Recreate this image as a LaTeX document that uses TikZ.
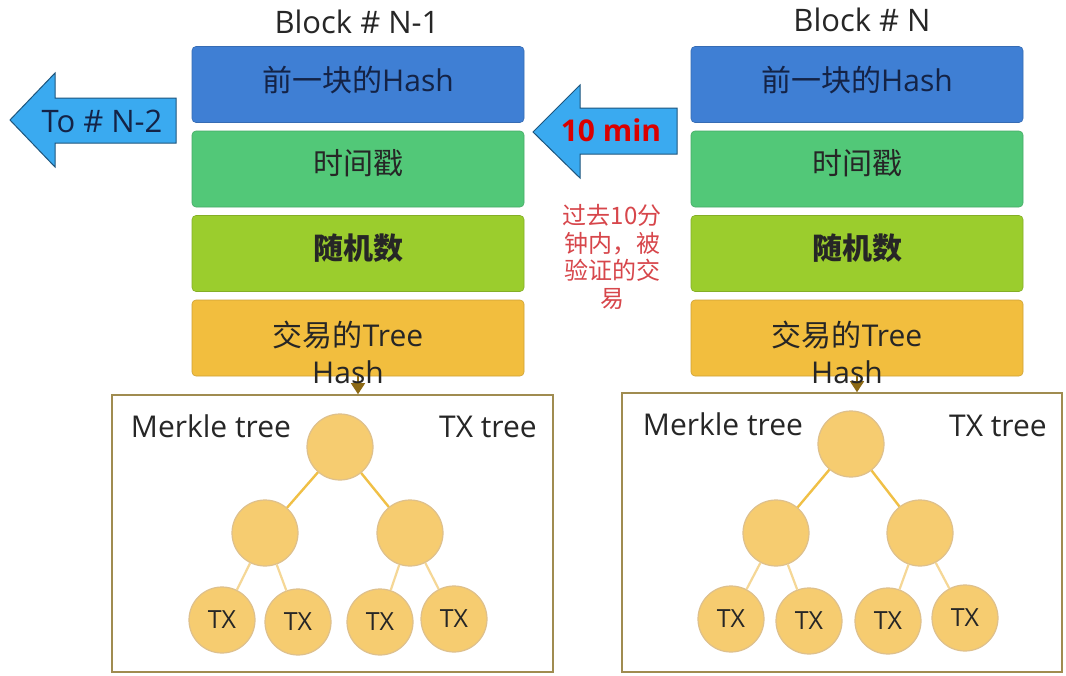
\documentclass[tikz,border=0pt]{standalone}
\usepackage{fontspec}
\setmainfont{Open Sans}
\newfontfamily\cjk{Noto Sans CJK SC}
\usetikzlibrary{positioning,arrows.meta}

\definecolor{hashblue}{RGB}{63,127,212}
\definecolor{timegreen}{RGB}{82,200,120}
\definecolor{noncegreen}{RGB}{155,205,45}
\definecolor{treeorange}{RGB}{242,190,62}
\definecolor{arrowblue}{RGB}{58,170,240}
\definecolor{arrowline}{RGB}{30,85,125}
\definecolor{leaffill}{RGB}{246,204,112}
\definecolor{leafline}{RGB}{222,192,140}
\definecolor{edgedark}{RGB}{240,192,70}
\definecolor{edgelight}{RGB}{245,215,150}
\definecolor{frameline}{RGB}{160,140,80}
\definecolor{notered}{RGB}{215,70,75}
\definecolor{navytext}{RGB}{20,35,70}
\definecolor{tipbrown}{RGB}{140,105,20}

\tikzset{
  field/.style={draw=#1!85!black, line width=0.6pt, fill=#1, rounded corners=4pt,
    minimum width=332pt, minimum height=76pt, inner sep=0pt},
  fieldtext/.style={font=\fontsize{30}{37}\selectfont, align=center, text=black!85, inner sep=0pt},
  blocktitle/.style={font=\fontsize{31}{36}\selectfont, text=black!85},
  frame/.style={draw=frameline, line width=1.6pt, inner sep=0pt},
  treelabel/.style={font=\fontsize{30}{36}\selectfont, text=black!85},
  hashnode/.style={circle, draw=leafline, line width=1.2pt, fill=leaffill, minimum size=66pt, inner sep=0pt,
    font=\fontsize{25}{28}\selectfont, text=black!85},
  rootedge/.style={draw=edgedark, line width=2.4pt},
  leafedge/.style={draw=edgelight, line width=2.2pt},
  bigarrow/.style={draw=arrowline, line width=1pt, fill=arrowblue, line join=miter},
  hasharrow/.style={draw=tipbrown, line width=1.4pt, -{Triangle[length=11pt,width=14pt]}}
}

\begin{document}
\begin{tikzpicture}[x=1pt,y=-1pt]
\useasboundingbox (0,0) rectangle (1066,675);
\fill[white] (0,0) rectangle (1066,675);

%% Block N-1
\node[blocktitle] (titleA) at (357,22) {Block \# N-1};
\node[field=hashblue] (hashA) at (358,84.5) {};
\node[field=timegreen] (timeA) at (358,169) {};
\node[field=noncegreen] (nonceA) at (358,253.5) {};
\node[field=treeorange] (treeA) at (358,338) {};
\node[frame, minimum width=441pt, minimum height=277pt] (frameA) at (332.5,533.5) {};
\draw[hasharrow] (treeA.south) -- (treeA.south |- frameA.north);
\node[fieldtext, text=navytext] (hashAtxt) at ([yshift=4pt]hashA.center) {{\cjk 前一块的}Hash};
\node[fieldtext] (timeAtxt) at ([yshift=6pt]timeA.center) {\cjk 时间戳};
\node[fieldtext] (nonceAtxt) at ([yshift=5pt]nonceA.center) {\cjk\bfseries 随机数};
\node[fieldtext] (treeAtxt) at ([xshift=-10pt,yshift=-14pt]treeA.center) {{\cjk 交易的}Tree\\Hash};

\node[treelabel] (merkleA) at (211,426) {Merkle tree};
\node[treelabel] (txtreeA) at (488,427) {TX tree};
\node[hashnode] (rootA) at (340,447) {};
\node[hashnode] (midAl) at (265,533) {};
\node[hashnode] (midAr) at (410,533) {};
\node[hashnode] (txA1) at (222,620) {TX};
\node[hashnode] (txA2) at (298,622) {TX};
\node[hashnode] (txA3) at (380,622) {TX};
\node[hashnode] (txA4) at (454,619) {TX};
\draw[rootedge] (rootA) -- (midAl);
\draw[rootedge] (rootA) -- (midAr);
\draw[leafedge] (midAl) -- (txA1);
\draw[leafedge] (midAl) -- (txA2);
\draw[leafedge] (midAr) -- (txA3);
\draw[leafedge] (midAr) -- (txA4);

%% Block N
\node[blocktitle] (titleB) at (862,20) {Block \# N};
\node[field=hashblue] (hashB) at (857,84.5) {};
\node[field=timegreen] (timeB) at (857,169) {};
\node[field=noncegreen] (nonceB) at (857,253.5) {};
\node[field=treeorange] (treeB) at (857,338) {};
\node[frame, minimum width=440pt, minimum height=279pt] (frameB) at (842,532.5) {};
\draw[hasharrow] (treeB.south) -- (treeB.south |- frameB.north);
\node[fieldtext, text=navytext] (hashBtxt) at ([yshift=4pt]hashB.center) {{\cjk 前一块的}Hash};
\node[fieldtext] (timeBtxt) at ([yshift=6pt]timeB.center) {\cjk 时间戳};
\node[fieldtext] (nonceBtxt) at ([yshift=5pt]nonceB.center) {\cjk\bfseries 随机数};
\node[fieldtext] (treeBtxt) at ([xshift=-10pt,yshift=-14pt]treeB.center) {{\cjk 交易的}Tree\\Hash};

\node[treelabel] (merkleB) at (723,424) {Merkle tree};
\node[treelabel] (txtreeB) at (998,426) {TX tree};
\node[hashnode] (rootB) at (851,444) {};
\node[hashnode] (midBl) at (776,533) {};
\node[hashnode] (midBr) at (920,533) {};
\node[hashnode] (txB1) at (731,619) {TX};
\node[hashnode] (txB2) at (809,621) {TX};
\node[hashnode] (txB3) at (888,621) {TX};
\node[hashnode] (txB4) at (965,618) {TX};
\draw[rootedge] (rootB) -- (midBl);
\draw[rootedge] (rootB) -- (midBr);
\draw[leafedge] (midBl) -- (txB1);
\draw[leafedge] (midBl) -- (txB2);
\draw[leafedge] (midBr) -- (txB3);
\draw[leafedge] (midBr) -- (txB4);

%% arrows between blocks
\draw[bigarrow] (10,120) -- (55,73) -- (55,98) -- (176,98) -- (176,143) -- (55,143) -- (55,167) -- cycle;
\node[font=\fontsize{31}{36}\selectfont, text=navytext] (toprev) at (102,121) {To \# N-2};
\draw[bigarrow] (533,132) -- (580,85) -- (580,108) -- (677,108) -- (677,154) -- (580,154) -- (580,178) -- cycle;
\node[font=\fontsize{30}{36}\selectfont\bfseries, text=red!85!black] (tenmin) at (611,130) {10 min};
\node[font=\cjk\fontsize{24}{27.5}\selectfont, text=notered, align=center] (note) at (612,257)
  {过去10分\\钟内，被\\验证的交\\易};
\end{tikzpicture}
\end{document}
